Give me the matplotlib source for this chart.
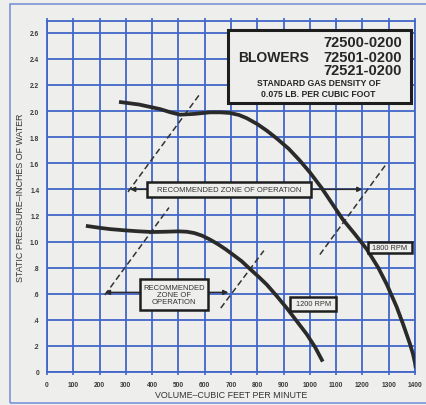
import matplotlib
matplotlib.use("Agg")
import matplotlib.pyplot as plt
from matplotlib.patches import Rectangle

plt.rcParams['font.family'] = ['Liberation Sans', 'DejaVu Sans']

# Blower performance curves (volume in CFM, static pressure in inches of water)
cfm_1800 = [274, 350, 430, 470, 506, 560, 620, 660, 696, 730, 760, 800, 836, 874, 920, 962,
            1000, 1045, 1085, 1125, 1170, 1217, 1260, 1293, 1330, 1354, 1380, 1392, 1400, 1403]
sp_1800 = [2.07, 2.05, 2.015, 1.99, 1.972, 1.978, 1.99, 1.99, 1.985, 1.97, 1.945, 1.90, 1.85,
           1.79, 1.71, 1.62, 1.53, 1.41, 1.29, 1.17, 1.06, 0.94, 0.80, 0.67, 0.50, 0.37, 0.22,
           0.14, 0.07, 0.03]

cfm_1200 = [148, 200, 240, 300, 350, 400, 450, 500, 532, 560, 590, 620, 650, 680, 707, 740,
            772, 805, 836, 875, 912, 950, 988, 1020, 1049]
sp_1200 = [1.12, 1.105, 1.095, 1.085, 1.078, 1.073, 1.075, 1.078, 1.075, 1.065, 1.045, 1.015,
           0.98, 0.94, 0.90, 0.85, 0.79, 0.73, 0.67, 0.58, 0.49, 0.39, 0.29, 0.19, 0.08]

# Recommended-zone boundary lines
zone_1800_left_x, zone_1800_left_y = [308, 585], [1.38, 2.14]
zone_1800_right_x, zone_1800_right_y = [1038, 1293], [0.90, 1.60]
zone_1200_left_x, zone_1200_left_y = [220, 464], [0.59, 1.26]
zone_1200_right_x, zone_1200_right_y = [661, 825], [0.49, 0.93]

x_ticks = list(range(0, 1401, 100))
x_labels = [str(v) for v in x_ticks]
y_ticks = [0, 0.2, 0.4, 0.6, 0.8, 1.0, 1.2, 1.4, 1.6, 1.8, 2.0, 2.2, 2.4, 2.6]
y_labels = ['0', '.2', '.4', '.6', '.8', '1.0', '1.2', '1.4', '1.6', '1.8', '2.0', '2.2', '2.4', '2.6']

BG = '#eeeeec'
BLUE = '#4166c9'
INK = '#2a2a2a'

fig = plt.figure(figsize=(4.27, 4.06), dpi=100, facecolor=BG)
ax = fig.add_axes([47 / 427, 1 - 373 / 406, 368 / 427, 351 / 406])
ax.set_facecolor(BG)

# outer page frame
fig.patches.append(Rectangle((10 / 427, 2 / 406), 1.2, 399 / 406, transform=fig.transFigure,
                             fill=False, edgecolor='#7a95d6', lw=1.2, zorder=0))

ax.set_xlim(0, 1400)
ax.set_ylim(0, 2.69)
ax.set_xticks(x_ticks)
ax.set_xticklabels(x_labels)
ax.set_yticks(y_ticks)
ax.set_yticklabels(y_labels)
ax.grid(True, color=BLUE, lw=1.3)
ax.set_axisbelow(True)
for s in ax.spines.values():
    s.set_color(BLUE)
    s.set_linewidth(1.3)
ax.tick_params(axis='both', length=0, labelsize=4.8, labelcolor='#3a3a3a')
ax.tick_params(axis='x', pad=4.5)
ax.tick_params(axis='y', pad=5.5)
ax.tick_params(axis='x', top=True, length=2.2, color=BLUE, width=1.2, direction='out',
               labeltop=False)
for lab in ax.get_xticklabels() + ax.get_yticklabels():
    lab.set_fontweight('bold')

ax.set_xlabel('VOLUME\u2013CUBIC FEET PER MINUTE', fontsize=6.4, color='#333333', labelpad=1.5)
ax.set_ylabel('STATIC PRESSURE\u2013INCHES OF WATER', fontsize=6.4, color='#333333', labelpad=3.5)

# fan curves
ax.plot(cfm_1800, sp_1800, color=INK, lw=2.7, solid_capstyle='butt', solid_joinstyle='round', zorder=4)
ax.plot(cfm_1200, sp_1200, color=INK, lw=2.7, solid_capstyle='butt', solid_joinstyle='round', zorder=4)

# zone boundaries
for xs, ys in [(zone_1800_left_x, zone_1800_left_y), (zone_1800_right_x, zone_1800_right_y),
               (zone_1200_left_x, zone_1200_left_y), (zone_1200_right_x, zone_1200_right_y)]:
    ax.plot(xs, ys, color='#333333', lw=1.1, ls=(0, (4, 2.2)), zorder=3)


def label_box(x0, x1, y0, y1, text, size, lw=1.8):
    ax.add_patch(Rectangle((x0, y0), x1 - x0, y1 - y0, facecolor=BG, edgecolor='#1e1e1e',
                           lw=lw, zorder=5))
    ax.text((x0 + x1) / 2, (y0 + y1) / 2, text, ha='center', va='center', fontsize=size,
            color='#333333', zorder=6, linespacing=1.0)


def arrow(x_from, x_to, y):
    ax.annotate('', xy=(x_to, y), xytext=(x_from, y),
                arrowprops=dict(arrowstyle='-|>', lw=1.1, color='#2a2a2a',
                                mutation_scale=7, shrinkA=0, shrinkB=0), zorder=4)


# recommended zone, 1800 RPM
arrow(380, 316, 1.40)
arrow(1003, 1200, 1.40)
label_box(380, 1003, 1.342, 1.457, 'RECOMMENDED ZONE OF OPERATION', 5.5)

# recommended zone, 1200 RPM
arrow(354, 220, 0.61)
arrow(612, 690, 0.61)
label_box(354, 612, 0.475, 0.713, 'RECOMMENDED\nZONE OF\nOPERATION', 5.5)

# speed labels
label_box(1221, 1389, 0.913, 0.997, '1800 RPM', 5.3)
label_box(925, 1100, 0.468, 0.575, '1200 RPM', 5.3)

# title block
ax.add_patch(Rectangle((688, 2.06), 696, 0.56, facecolor=BG, edgecolor='#1e1e1e', lw=2.2, zorder=5))
tb = dict(zorder=6, color='#262626', fontweight='bold')
ax.text(1351, 2.530, '72500-0200', ha='right', va='center', fontsize=10.5, **tb)
ax.text(1351, 2.415, '72501-0200', ha='right', va='center', fontsize=10.5, **tb)
ax.text(1351, 2.316, '72521-0200', ha='right', va='center', fontsize=10.5, **tb)
ax.text(727, 2.415, 'BLOWERS', ha='left', va='center', fontsize=10.0, **tb)
ax.text(1035, 2.216, 'STANDARD GAS DENSITY OF', ha='center', va='center', fontsize=6.2, **tb)
ax.text(1033, 2.138, '0.075 LB. PER CUBIC FOOT', ha='center', va='center', fontsize=6.2, **tb)

fig.savefig('out.png', dpi=100, facecolor=BG)
